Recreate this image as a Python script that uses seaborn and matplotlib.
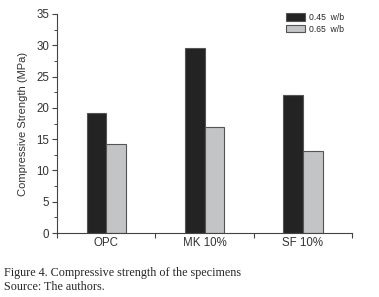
import pandas as pd
import matplotlib.pyplot as plt
import seaborn as sns
from matplotlib.ticker import MultipleLocator

mixes = ["OPC", "MK 10%", "SF 10%"]
ratios = ["0.45  w/b", "0.65  w/b"]
strength_045 = [19.2, 29.6, 22.1]
strength_065 = [14.2, 16.9, 13.1]

df = pd.DataFrame({
    "mix": mixes * 2,
    "ratio": [ratios[0]] * 3 + [ratios[1]] * 3,
    "strength": strength_045 + strength_065,
})

sns.set_style("ticks")
plt.rcParams['font.family'] = ['Liberation Sans', 'DejaVu Sans']

fig = plt.figure(figsize=(3.79, 2.97), dpi=100)
ax = fig.add_axes([57 / 379, 1 - 233 / 297, 295 / 379, 219 / 297])

sns.barplot(data=df, x="mix", y="strength", hue="ratio", ax=ax,
            palette=["#232323", "#c3c4c6"], width=0.4,
            edgecolor="#555555", linewidth=0.8, errorbar=None)

ax.set_xlim(-0.5, 2.5)
ax.set_ylim(0, 35)
ax.set_xticks([-0.5, 0.5, 1.5, 2.5], minor=False)
ax.set_xticklabels([])
ax.set_xticks([0, 1, 2], minor=True)
ax.set_xticklabels(mixes, minor=True)
ax.tick_params(axis="x", which="minor", length=0, labelsize=8.3, pad=3, colors="#333333")
ax.tick_params(axis="x", which="major", length=3.5, width=0.8, color="#444444")
ax.yaxis.set_major_locator(MultipleLocator(5))
ax.yaxis.set_minor_locator(MultipleLocator(2.5))
ax.tick_params(axis="y", which="major", length=3.5, width=0.8, labelsize=8.3,
               color="#444444", labelcolor="#333333", pad=2)
ax.tick_params(axis="y", which="minor", length=2, width=0.7, color="#444444")

sns.despine(ax=ax)
for s in ["left", "bottom"]:
    ax.spines[s].set_color("#444444")
    ax.spines[s].set_linewidth(0.8)

ax.set_xlabel("")
ax.set_ylabel("Compressive Strength (MPa)", fontsize=8, color="#333333", labelpad=6)

leg = ax.legend(loc="upper right", bbox_to_anchor=(1.0, 1.04), frameon=False,
                fontsize=6.2, handlelength=2.2, handleheight=1.0,
                handletextpad=0.5, labelspacing=0.3, title=None)

fig.text(4 / 379, 1 - 273 / 297, "Figure 4. Compressive strength of the specimens",
         family="Liberation Serif", fontsize=8.7, va="center")
fig.text(4 / 379, 1 - 287 / 297, "Source: The authors.",
         family="Liberation Serif", fontsize=8.7, va="center")

fig.savefig("out.png", dpi=100)
